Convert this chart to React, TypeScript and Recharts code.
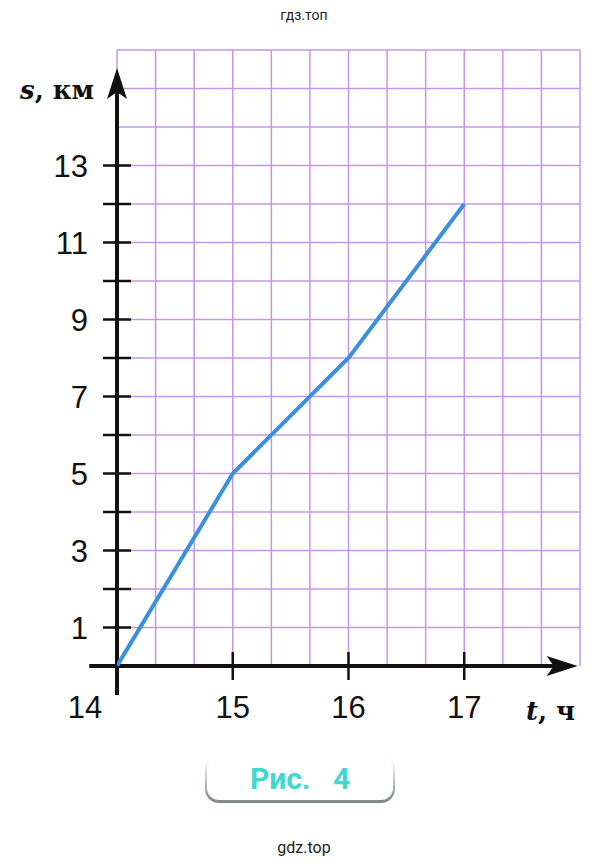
import { CartesianGrid, Line, LineChart, ReferenceDot, ReferenceLine, XAxis, YAxis } from "recharts";

// distance-time graph, fig. 4
const hours = [14, 15, 16, 17];
const distanceKm = [0, 5, 8, 12];
const xTicks = [14, 15, 16, 17];
const yTicks = [1, 2, 3, 4, 5, 6, 7, 8, 9, 10, 11, 12, 13];
const yLabels = [1, 3, 5, 7, 9, 11, 13];
const gridT = Array.from({ length: 13 }, (_, i) => 14 + i / 3);
const gridS = Array.from({ length: 16 }, (_, i) => i + 1);

const data = hours.map((t, i) => ({ t, s: distanceKm[i] }));

const W = 609;
const H = 867;
const ink = "#111";
const numFont = "'Liberation Sans', Arial, sans-serif";
const serif = "'DejaVu Serif', serif";

function TimeTick(props: any) {
    const { x, y, payload } = props;
    const first = payload.value === 14;
    return (
        <g>
            {!first && <line x1={x} x2={x} y1={y - 14} y2={y + 14} stroke={ink} strokeWidth={2.5} />}
            <text x={first ? x - 32 : x} y={y + 52} textAnchor="middle" fontSize={31} fontFamily={numFont} fill={ink}>
                {payload.value}
            </text>
        </g>
    );
}

function DistTick(props: any) {
    const { x, y, payload } = props;
    return (
        <g>
            <line x1={x - 14} x2={x + 14} y1={y} y2={y} stroke={ink} strokeWidth={2.5} />
            {yLabels.includes(payload.value) && (
                <text x={x - 29} y={y + 11} textAnchor="end" fontSize={31} fontFamily={numFont} fill={ink}>
                    {payload.value}
                </text>
            )}
        </g>
    );
}

const arrowRight = (p: any) => (
    <path d={`M${p.cx},${p.cy} L${p.cx - 31},${p.cy - 10} L${p.cx - 24},${p.cy} L${p.cx - 31},${p.cy + 10} Z`} fill={ink} />
);
const arrowUp = (p: any) => (
    <path d={`M${p.cx},${p.cy} L${p.cx - 10},${p.cy + 31} L${p.cx},${p.cy + 24} L${p.cx + 10},${p.cy + 31} Z`} fill={ink} />
);

export default function App() {
    return (
        <div style={{ position: "absolute", left: 0, top: 0, width: W, height: H, background: "#fff" }}>
            <LineChart width={W} height={H} data={data} margin={{ top: 50, right: 29, bottom: 200, left: 116 }}>
                <CartesianGrid
                    stroke="#c596e8"
                    strokeWidth={1.5}
                    verticalValues={gridT}
                    horizontalValues={gridS}
                />
                <XAxis
                    dataKey="t"
                    type="number"
                    domain={[14, 18]}
                    allowDataOverflow
                    ticks={xTicks}
                    height={1}
                    axisLine={false}
                    tickLine={false}
                    tickSize={0}
                    tickMargin={0}
                    tick={(p: any) => <TimeTick {...p} />}
                    interval={0}
                />
                <YAxis
                    type="number"
                    domain={[0, 16]}
                    allowDataOverflow
                    ticks={yTicks}
                    width={1}
                    axisLine={false}
                    tickLine={false}
                    tickSize={0}
                    tickMargin={0}
                    tick={(p: any) => <DistTick {...p} />}
                    interval={0}
                />
                <ReferenceLine segment={[{ x: 13.76, y: 0 }, { x: 17.9, y: 0 }]} stroke={ink} strokeWidth={4} ifOverflow="visible" />
                <ReferenceLine segment={[{ x: 14, y: -0.75 }, { x: 14, y: 15.2 }]} stroke={ink} strokeWidth={4} ifOverflow="visible" />
                <ReferenceDot x={17.98} y={0} ifOverflow="visible" shape={arrowRight} />
                <ReferenceDot x={14} y={15.53} ifOverflow="visible" shape={arrowUp} />
                <Line
                    dataKey="s"
                    stroke="#3b8fdc"
                    strokeWidth={4}
                    dot={false}
                    isAnimationActive={false}
                />
            </LineChart>
            <svg width={W} height={H} style={{ position: "absolute", left: 0, top: 0, pointerEvents: "none" }}>
                <text x={304} y={20} textAnchor="middle" fontSize={14} fontFamily="Roboto, sans-serif" fill="#222">гдз.топ</text>
                <text x={20} y={99} fontSize={26} fontFamily={serif} fill={ink} fontWeight={600}>
                    <tspan fontStyle="italic">s</tspan>, км
                </text>
                <text x={526} y={720} fontSize={26} fontFamily={serif} fill={ink} fontWeight={600}>
                    <tspan fontStyle="italic">t</tspan>, ч
                </text>
                <text x={304} y={853} textAnchor="middle" fontSize={16} fontFamily="Roboto, sans-serif" fill="#222">gdz.top</text>
            </svg>
            <div
                style={{
                    position: "absolute",
                    left: 205,
                    top: 756,
                    width: 190,
                    height: 47,
                    boxSizing: "border-box",
                    borderRadius: 14,
                    padding: "0 2px 3px 2px",
                    background: "linear-gradient(to bottom, #ffffff 0%, #c6cbcc 45%, #7c8688 100%)",
                }}
            >
                <div
                    style={{
                        width: "100%",
                        height: "100%",
                        background: "#fff",
                        borderRadius: 12,
                        display: "flex",
                        alignItems: "center",
                        justifyContent: "center",
                        fontFamily: "Roboto, sans-serif",
                        fontWeight: 700,
                        fontSize: 30,
                        color: "#3fd8d0",
                        whiteSpace: "pre",
                    }}
                >
                    {"Рис.   4"}
                </div>
            </div>
        </div>
    );
}
